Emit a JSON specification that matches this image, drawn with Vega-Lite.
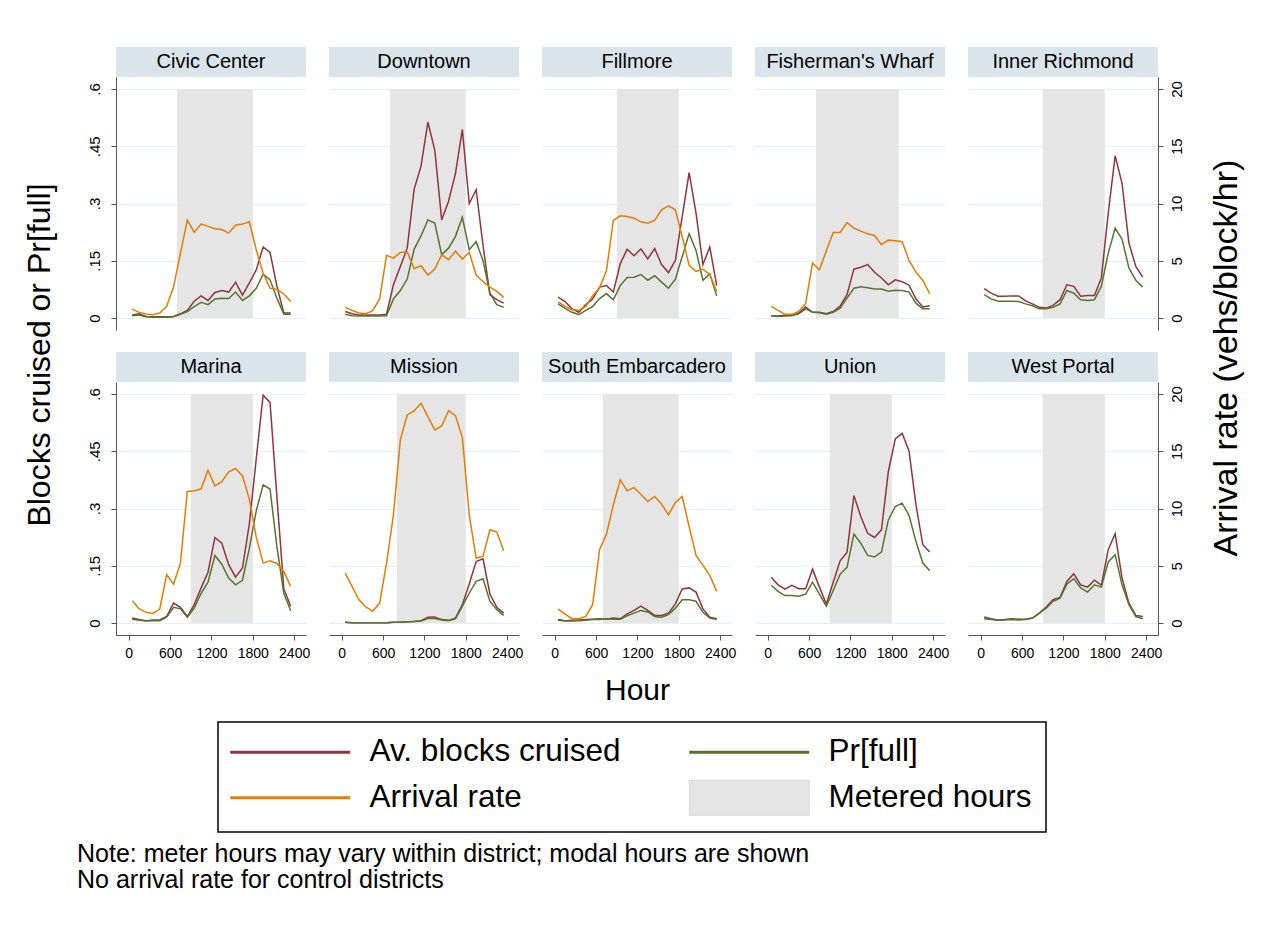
{
"$schema": "https://vega.github.io/schema/vega-lite/v6.json",
"padding": {"left": 23, "top": 47, "right": 10, "bottom": 10},
"config": {
  "font": "Liberation Sans",
  "view": {"stroke": null},
  "axis": {"labelFontSize": 14, "labelColor": "#000", "domainColor": "#555", "tickColor": "#555", "tickSize": 5, "titleFontWeight": "normal", "titleFontSize": 30, "titleColor": "#000", "gridColor": "#e6eff2"},
  "axisX": {"grid": false},
  "title": {"fontWeight": "normal", "color": "#000"},
  "legend": {"labelColor": "#000"}
},
"datasets": {
"meter": [
{"district":"Civic Center","start":700,"end":1800},
{"district":"Downtown","start":700,"end":1800},
{"district":"Fillmore","start":900,"end":1800},
{"district":"Fisherman's Wharf","start":700,"end":1900},
{"district":"Inner Richmond","start":900,"end":1800},
{"district":"Marina","start":900,"end":1800},
{"district":"Mission","start":800,"end":1800},
{"district":"South Embarcadero","start":700,"end":1800},
{"district":"Union","start":900,"end":1800},
{"district":"West Portal","start":900,"end":1800}
],
"d": [
{"district":"Civic Center","hour":50,"cruised":0.008,"full":0.006,"arrival":0.78},
{"district":"Civic Center","hour":150,"cruised":0.011,"full":0.008,"arrival":0.49},
{"district":"Civic Center","hour":250,"cruised":0.004,"full":0.003,"arrival":0.35},
{"district":"Civic Center","hour":350,"cruised":0.003,"full":0.002,"arrival":0.29},
{"district":"Civic Center","hour":450,"cruised":0.003,"full":0.002,"arrival":0.44},
{"district":"Civic Center","hour":550,"cruised":0.003,"full":0.002,"arrival":1.02},
{"district":"Civic Center","hour":650,"cruised":0.004,"full":0.003,"arrival":2.7},
{"district":"Civic Center","hour":750,"cruised":0.011,"full":0.01,"arrival":5.67},
{"district":"Civic Center","hour":850,"cruised":0.02,"full":0.017,"arrival":8.55},
{"district":"Civic Center","hour":950,"cruised":0.044,"full":0.03,"arrival":7.5},
{"district":"Civic Center","hour":1050,"cruised":0.058,"full":0.041,"arrival":8.2},
{"district":"Civic Center","hour":1150,"cruised":0.046,"full":0.035,"arrival":8.0},
{"district":"Civic Center","hour":1250,"cruised":0.067,"full":0.05,"arrival":7.8},
{"district":"Civic Center","hour":1350,"cruised":0.072,"full":0.052,"arrival":7.73},
{"district":"Civic Center","hour":1450,"cruised":0.068,"full":0.051,"arrival":7.41},
{"district":"Civic Center","hour":1550,"cruised":0.094,"full":0.068,"arrival":8.1},
{"district":"Civic Center","hour":1650,"cruised":0.06,"full":0.046,"arrival":8.2},
{"district":"Civic Center","hour":1750,"cruised":0.092,"full":0.058,"arrival":8.4},
{"district":"Civic Center","hour":1850,"cruised":0.126,"full":0.078,"arrival":5.96},
{"district":"Civic Center","hour":1950,"cruised":0.186,"full":0.115,"arrival":3.9},
{"district":"Civic Center","hour":2050,"cruised":0.172,"full":0.1,"arrival":2.6},
{"district":"Civic Center","hour":2150,"cruised":0.083,"full":0.052,"arrival":2.5},
{"district":"Civic Center","hour":2250,"cruised":0.013,"full":0.01,"arrival":2.1},
{"district":"Civic Center","hour":2350,"cruised":0.013,"full":0.01,"arrival":1.45},
{"district":"Downtown","hour":50,"cruised":0.017,"full":0.01,"arrival":0.93},
{"district":"Downtown","hour":150,"cruised":0.011,"full":0.006,"arrival":0.67},
{"district":"Downtown","hour":250,"cruised":0.008,"full":0.005,"arrival":0.44},
{"district":"Downtown","hour":350,"cruised":0.008,"full":0.005,"arrival":0.38},
{"district":"Downtown","hour":450,"cruised":0.008,"full":0.005,"arrival":0.64},
{"district":"Downtown","hour":550,"cruised":0.008,"full":0.005,"arrival":1.69},
{"district":"Downtown","hour":650,"cruised":0.01,"full":0.006,"arrival":5.47},
{"district":"Downtown","hour":750,"cruised":0.087,"full":0.05,"arrival":5.23},
{"district":"Downtown","hour":850,"cruised":0.135,"full":0.072,"arrival":5.73},
{"district":"Downtown","hour":950,"cruised":0.183,"full":0.102,"arrival":5.79},
{"district":"Downtown","hour":1050,"cruised":0.337,"full":0.18,"arrival":4.3},
{"district":"Downtown","hour":1150,"cruised":0.398,"full":0.215,"arrival":4.56},
{"district":"Downtown","hour":1250,"cruised":0.513,"full":0.257,"arrival":3.75},
{"district":"Downtown","hour":1350,"cruised":0.44,"full":0.249,"arrival":4.27},
{"district":"Downtown","hour":1450,"cruised":0.257,"full":0.166,"arrival":5.52},
{"district":"Downtown","hour":1550,"cruised":0.306,"full":0.183,"arrival":5.09},
{"district":"Downtown","hour":1650,"cruised":0.379,"full":0.214,"arrival":5.84},
{"district":"Downtown","hour":1750,"cruised":0.494,"full":0.264,"arrival":5.15},
{"district":"Downtown","hour":1850,"cruised":0.3,"full":0.179,"arrival":5.73},
{"district":"Downtown","hour":1950,"cruised":0.336,"full":0.2,"arrival":3.75},
{"district":"Downtown","hour":2050,"cruised":0.19,"full":0.15,"arrival":3.17},
{"district":"Downtown","hour":2150,"cruised":0.061,"full":0.065,"arrival":2.7},
{"district":"Downtown","hour":2250,"cruised":0.048,"full":0.035,"arrival":2.33},
{"district":"Downtown","hour":2350,"cruised":0.039,"full":0.028,"arrival":1.8},
{"district":"Fillmore","hour":50,"cruised":0.055,"full":0.037,"arrival":1.4},
{"district":"Fillmore","hour":150,"cruised":0.043,"full":0.025,"arrival":1.02},
{"district":"Fillmore","hour":250,"cruised":0.024,"full":0.015,"arrival":0.73},
{"district":"Fillmore","hour":350,"cruised":0.015,"full":0.009,"arrival":0.67},
{"district":"Fillmore","hour":450,"cruised":0.035,"full":0.02,"arrival":1.02},
{"district":"Fillmore","hour":550,"cruised":0.05,"full":0.03,"arrival":1.95},
{"district":"Fillmore","hour":650,"cruised":0.081,"full":0.051,"arrival":2.62},
{"district":"Fillmore","hour":750,"cruised":0.085,"full":0.064,"arrival":4.13},
{"district":"Fillmore","hour":850,"cruised":0.068,"full":0.048,"arrival":8.52},
{"district":"Fillmore","hour":950,"cruised":0.142,"full":0.085,"arrival":8.92},
{"district":"Fillmore","hour":1050,"cruised":0.18,"full":0.106,"arrival":8.87},
{"district":"Fillmore","hour":1150,"cruised":0.163,"full":0.107,"arrival":8.72},
{"district":"Fillmore","hour":1250,"cruised":0.181,"full":0.114,"arrival":8.4},
{"district":"Fillmore","hour":1350,"cruised":0.155,"full":0.099,"arrival":8.28},
{"district":"Fillmore","hour":1450,"cruised":0.182,"full":0.111,"arrival":8.52},
{"district":"Fillmore","hour":1550,"cruised":0.14,"full":0.094,"arrival":9.45},
{"district":"Fillmore","hour":1650,"cruised":0.119,"full":0.078,"arrival":9.8},
{"district":"Fillmore","hour":1750,"cruised":0.151,"full":0.102,"arrival":9.45},
{"district":"Fillmore","hour":1850,"cruised":0.266,"full":0.161,"arrival":7.1},
{"district":"Fillmore","hour":1950,"cruised":0.381,"full":0.221,"arrival":4.6},
{"district":"Fillmore","hour":2050,"cruised":0.275,"full":0.177,"arrival":4.07},
{"district":"Fillmore","hour":2150,"cruised":0.14,"full":0.099,"arrival":4.27},
{"district":"Fillmore","hour":2250,"cruised":0.186,"full":0.116,"arrival":3.78},
{"district":"Fillmore","hour":2350,"cruised":0.085,"full":0.058,"arrival":2.33},
{"district":"Fisherman's Wharf","hour":50,"cruised":0.006,"full":0.006,"arrival":1.02},
{"district":"Fisherman's Wharf","hour":150,"cruised":0.005,"full":0.004,"arrival":0.67},
{"district":"Fisherman's Wharf","hour":250,"cruised":0.007,"full":0.005,"arrival":0.32},
{"district":"Fisherman's Wharf","hour":350,"cruised":0.007,"full":0.006,"arrival":0.32},
{"district":"Fisherman's Wharf","hour":450,"cruised":0.013,"full":0.011,"arrival":0.58},
{"district":"Fisherman's Wharf","hour":550,"cruised":0.029,"full":0.024,"arrival":1.25},
{"district":"Fisherman's Wharf","hour":650,"cruised":0.015,"full":0.015,"arrival":4.8},
{"district":"Fisherman's Wharf","hour":750,"cruised":0.015,"full":0.014,"arrival":4.22},
{"district":"Fisherman's Wharf","hour":850,"cruised":0.011,"full":0.01,"arrival":5.87},
{"district":"Fisherman's Wharf","hour":950,"cruised":0.017,"full":0.015,"arrival":7.47},
{"district":"Fisherman's Wharf","hour":1050,"cruised":0.031,"full":0.026,"arrival":7.47},
{"district":"Fisherman's Wharf","hour":1150,"cruised":0.061,"full":0.052,"arrival":8.34},
{"district":"Fisherman's Wharf","hour":1250,"cruised":0.128,"full":0.078,"arrival":7.85},
{"district":"Fisherman's Wharf","hour":1350,"cruised":0.133,"full":0.082,"arrival":7.59},
{"district":"Fisherman's Wharf","hour":1450,"cruised":0.14,"full":0.079,"arrival":7.35},
{"district":"Fisherman's Wharf","hour":1550,"cruised":0.12,"full":0.076,"arrival":7.21},
{"district":"Fisherman's Wharf","hour":1650,"cruised":0.105,"full":0.076,"arrival":6.4},
{"district":"Fisherman's Wharf","hour":1750,"cruised":0.087,"full":0.07,"arrival":6.8},
{"district":"Fisherman's Wharf","hour":1850,"cruised":0.1,"full":0.073,"arrival":6.74},
{"district":"Fisherman's Wharf","hour":1950,"cruised":0.095,"full":0.072,"arrival":6.66},
{"district":"Fisherman's Wharf","hour":2050,"cruised":0.086,"full":0.068,"arrival":5.03},
{"district":"Fisherman's Wharf","hour":2150,"cruised":0.05,"full":0.039,"arrival":4.01},
{"district":"Fisherman's Wharf","hour":2250,"cruised":0.029,"full":0.024,"arrival":3.28},
{"district":"Fisherman's Wharf","hour":2350,"cruised":0.032,"full":0.024,"arrival":2.12},
{"district":"Inner Richmond","hour":50,"cruised":0.077,"full":0.061},
{"district":"Inner Richmond","hour":150,"cruised":0.065,"full":0.05},
{"district":"Inner Richmond","hour":250,"cruised":0.057,"full":0.044},
{"district":"Inner Richmond","hour":350,"cruised":0.057,"full":0.044},
{"district":"Inner Richmond","hour":450,"cruised":0.058,"full":0.044},
{"district":"Inner Richmond","hour":550,"cruised":0.058,"full":0.043},
{"district":"Inner Richmond","hour":650,"cruised":0.045,"full":0.037},
{"district":"Inner Richmond","hour":750,"cruised":0.037,"full":0.032},
{"district":"Inner Richmond","hour":850,"cruised":0.028,"full":0.024},
{"district":"Inner Richmond","hour":950,"cruised":0.026,"full":0.024},
{"district":"Inner Richmond","hour":1050,"cruised":0.033,"full":0.028},
{"district":"Inner Richmond","hour":1150,"cruised":0.048,"full":0.037},
{"district":"Inner Richmond","hour":1250,"cruised":0.087,"full":0.072},
{"district":"Inner Richmond","hour":1350,"cruised":0.083,"full":0.065},
{"district":"Inner Richmond","hour":1450,"cruised":0.057,"full":0.048},
{"district":"Inner Richmond","hour":1550,"cruised":0.059,"full":0.046},
{"district":"Inner Richmond","hour":1650,"cruised":0.059,"full":0.048},
{"district":"Inner Richmond","hour":1750,"cruised":0.105,"full":0.083},
{"district":"Inner Richmond","hour":1850,"cruised":0.275,"full":0.17},
{"district":"Inner Richmond","hour":1950,"cruised":0.425,"full":0.235},
{"district":"Inner Richmond","hour":2050,"cruised":0.353,"full":0.207},
{"district":"Inner Richmond","hour":2150,"cruised":0.196,"full":0.131},
{"district":"Inner Richmond","hour":2250,"cruised":0.135,"full":0.099},
{"district":"Inner Richmond","hour":2350,"cruised":0.107,"full":0.081},
{"district":"Marina","hour":50,"cruised":0.013,"full":0.01,"arrival":1.95},
{"district":"Marina","hour":150,"cruised":0.009,"full":0.007,"arrival":1.25},
{"district":"Marina","hour":250,"cruised":0.006,"full":0.005,"arrival":0.93},
{"district":"Marina","hour":350,"cruised":0.008,"full":0.006,"arrival":0.84},
{"district":"Marina","hour":450,"cruised":0.008,"full":0.006,"arrival":1.22},
{"district":"Marina","hour":550,"cruised":0.017,"full":0.015,"arrival":4.22},
{"district":"Marina","hour":650,"cruised":0.052,"full":0.041,"arrival":3.4},
{"district":"Marina","hour":750,"cruised":0.041,"full":0.037,"arrival":5.23},
{"district":"Marina","hour":850,"cruised":0.017,"full":0.015,"arrival":11.48},
{"district":"Marina","hour":950,"cruised":0.048,"full":0.039,"arrival":11.54},
{"district":"Marina","hour":1050,"cruised":0.092,"full":0.078,"arrival":11.72},
{"district":"Marina","hour":1150,"cruised":0.133,"full":0.107,"arrival":13.34},
{"district":"Marina","hour":1250,"cruised":0.224,"full":0.177,"arrival":11.98},
{"district":"Marina","hour":1350,"cruised":0.209,"full":0.154,"arrival":12.35},
{"district":"Marina","hour":1450,"cruised":0.153,"full":0.118,"arrival":13.2},
{"district":"Marina","hour":1550,"cruised":0.12,"full":0.1,"arrival":13.49},
{"district":"Marina","hour":1650,"cruised":0.144,"full":0.112,"arrival":12.85},
{"district":"Marina","hour":1750,"cruised":0.26,"full":0.196,"arrival":10.8},
{"district":"Marina","hour":1850,"cruised":0.43,"full":0.294,"arrival":7.5},
{"district":"Marina","hour":1950,"cruised":0.597,"full":0.362,"arrival":5.23},
{"district":"Marina","hour":2050,"cruised":0.578,"full":0.351,"arrival":5.44},
{"district":"Marina","hour":2150,"cruised":0.33,"full":0.2,"arrival":5.2},
{"district":"Marina","hour":2250,"cruised":0.09,"full":0.078,"arrival":4.5},
{"district":"Marina","hour":2350,"cruised":0.044,"full":0.032,"arrival":3.2},
{"district":"Mission","hour":50,"cruised":0.002,"full":0.002,"arrival":4.36},
{"district":"Mission","hour":150,"cruised":0.001,"full":0.001,"arrival":3.2},
{"district":"Mission","hour":250,"cruised":0.001,"full":0.001,"arrival":2.03},
{"district":"Mission","hour":350,"cruised":0.001,"full":0.001,"arrival":1.4},
{"district":"Mission","hour":450,"cruised":0.001,"full":0.001,"arrival":1.02},
{"district":"Mission","hour":550,"cruised":0.001,"full":0.001,"arrival":1.74},
{"district":"Mission","hour":650,"cruised":0.001,"full":0.001,"arrival":5.23},
{"district":"Mission","hour":750,"cruised":0.002,"full":0.002,"arrival":9.45},
{"district":"Mission","hour":850,"cruised":0.002,"full":0.002,"arrival":15.99},
{"district":"Mission","hour":950,"cruised":0.003,"full":0.003,"arrival":18.17},
{"district":"Mission","hour":1050,"cruised":0.004,"full":0.004,"arrival":18.52},
{"district":"Mission","hour":1150,"cruised":0.006,"full":0.005,"arrival":19.19},
{"district":"Mission","hour":1250,"cruised":0.015,"full":0.012,"arrival":18.02},
{"district":"Mission","hour":1350,"cruised":0.016,"full":0.012,"arrival":16.86},
{"district":"Mission","hour":1450,"cruised":0.009,"full":0.008,"arrival":17.21},
{"district":"Mission","hour":1550,"cruised":0.007,"full":0.006,"arrival":18.55},
{"district":"Mission","hour":1650,"cruised":0.013,"full":0.011,"arrival":18.11},
{"district":"Mission","hour":1750,"cruised":0.048,"full":0.044,"arrival":16.19},
{"district":"Mission","hour":1850,"cruised":0.102,"full":0.078,"arrival":9.45},
{"district":"Mission","hour":1950,"cruised":0.161,"full":0.109,"arrival":5.67},
{"district":"Mission","hour":2050,"cruised":0.168,"full":0.116,"arrival":5.81},
{"district":"Mission","hour":2150,"cruised":0.076,"full":0.057,"arrival":8.14},
{"district":"Mission","hour":2250,"cruised":0.041,"full":0.035,"arrival":7.94},
{"district":"Mission","hour":2350,"cruised":0.026,"full":0.02,"arrival":6.31},
{"district":"South Embarcadero","hour":50,"cruised":0.009,"full":0.007,"arrival":1.22},
{"district":"South Embarcadero","hour":150,"cruised":0.006,"full":0.005,"arrival":0.78},
{"district":"South Embarcadero","hour":250,"cruised":0.007,"full":0.005,"arrival":0.38},
{"district":"South Embarcadero","hour":350,"cruised":0.008,"full":0.006,"arrival":0.38},
{"district":"South Embarcadero","hour":450,"cruised":0.009,"full":0.007,"arrival":0.58},
{"district":"South Embarcadero","hour":550,"cruised":0.01,"full":0.009,"arrival":1.6},
{"district":"South Embarcadero","hour":650,"cruised":0.011,"full":0.009,"arrival":6.4},
{"district":"South Embarcadero","hour":750,"cruised":0.01,"full":0.011,"arrival":7.76},
{"district":"South Embarcadero","hour":850,"cruised":0.013,"full":0.01,"arrival":10.32},
{"district":"South Embarcadero","hour":950,"cruised":0.011,"full":0.01,"arrival":12.5},
{"district":"South Embarcadero","hour":1050,"cruised":0.024,"full":0.019,"arrival":11.54},
{"district":"South Embarcadero","hour":1150,"cruised":0.033,"full":0.026,"arrival":11.83},
{"district":"South Embarcadero","hour":1250,"cruised":0.044,"full":0.033,"arrival":11.25},
{"district":"South Embarcadero","hour":1350,"cruised":0.033,"full":0.029,"arrival":10.61},
{"district":"South Embarcadero","hour":1450,"cruised":0.02,"full":0.017,"arrival":11.05},
{"district":"South Embarcadero","hour":1550,"cruised":0.02,"full":0.015,"arrival":10.38},
{"district":"South Embarcadero","hour":1650,"cruised":0.026,"full":0.022,"arrival":9.45},
{"district":"South Embarcadero","hour":1750,"cruised":0.05,"full":0.039,"arrival":10.52},
{"district":"South Embarcadero","hour":1850,"cruised":0.089,"full":0.061,"arrival":11.05},
{"district":"South Embarcadero","hour":1950,"cruised":0.092,"full":0.061,"arrival":8.43},
{"district":"South Embarcadero","hour":2050,"cruised":0.081,"full":0.057,"arrival":5.9},
{"district":"South Embarcadero","hour":2150,"cruised":0.037,"full":0.028,"arrival":5.03},
{"district":"South Embarcadero","hour":2250,"cruised":0.015,"full":0.013,"arrival":4.16},
{"district":"South Embarcadero","hour":2350,"cruised":0.011,"full":0.009,"arrival":2.76},
{"district":"Union","hour":50,"cruised":0.12,"full":0.099},
{"district":"Union","hour":150,"cruised":0.1,"full":0.083},
{"district":"Union","hour":250,"cruised":0.089,"full":0.072},
{"district":"Union","hour":350,"cruised":0.099,"full":0.072},
{"district":"Union","hour":450,"cruised":0.09,"full":0.07},
{"district":"Union","hour":550,"cruised":0.09,"full":0.076},
{"district":"Union","hour":650,"cruised":0.141,"full":0.107},
{"district":"Union","hour":750,"cruised":0.094,"full":0.076},
{"district":"Union","hour":850,"cruised":0.05,"full":0.044},
{"district":"Union","hour":950,"cruised":0.107,"full":0.085},
{"district":"Union","hour":1050,"cruised":0.163,"full":0.128},
{"district":"Union","hour":1150,"cruised":0.185,"full":0.146},
{"district":"Union","hour":1250,"cruised":0.334,"full":0.233},
{"district":"Union","hour":1350,"cruised":0.279,"full":0.209},
{"district":"Union","hour":1450,"cruised":0.235,"full":0.177},
{"district":"Union","hour":1550,"cruised":0.224,"full":0.173},
{"district":"Union","hour":1650,"cruised":0.244,"full":0.186},
{"district":"Union","hour":1750,"cruised":0.397,"full":0.27},
{"district":"Union","hour":1850,"cruised":0.482,"full":0.305},
{"district":"Union","hour":1950,"cruised":0.497,"full":0.314},
{"district":"Union","hour":2050,"cruised":0.451,"full":0.282},
{"district":"Union","hour":2150,"cruised":0.31,"full":0.214},
{"district":"Union","hour":2250,"cruised":0.205,"full":0.157},
{"district":"Union","hour":2350,"cruised":0.186,"full":0.137},
{"district":"West Portal","hour":50,"cruised":0.016,"full":0.011},
{"district":"West Portal","hour":150,"cruised":0.011,"full":0.009},
{"district":"West Portal","hour":250,"cruised":0.008,"full":0.007},
{"district":"West Portal","hour":350,"cruised":0.009,"full":0.008},
{"district":"West Portal","hour":450,"cruised":0.011,"full":0.009},
{"district":"West Portal","hour":550,"cruised":0.01,"full":0.008},
{"district":"West Portal","hour":650,"cruised":0.01,"full":0.009},
{"district":"West Portal","hour":750,"cruised":0.013,"full":0.013},
{"district":"West Portal","hour":850,"cruised":0.026,"full":0.026},
{"district":"West Portal","hour":950,"cruised":0.042,"full":0.039},
{"district":"West Portal","hour":1050,"cruised":0.061,"full":0.057},
{"district":"West Portal","hour":1150,"cruised":0.067,"full":0.065},
{"district":"West Portal","hour":1250,"cruised":0.109,"full":0.102},
{"district":"West Portal","hour":1350,"cruised":0.129,"full":0.116},
{"district":"West Portal","hour":1450,"cruised":0.1,"full":0.092},
{"district":"West Portal","hour":1550,"cruised":0.094,"full":0.081},
{"district":"West Portal","hour":1650,"cruised":0.112,"full":0.1},
{"district":"West Portal","hour":1750,"cruised":0.099,"full":0.094},
{"district":"West Portal","hour":1850,"cruised":0.192,"full":0.16},
{"district":"West Portal","hour":1950,"cruised":0.234,"full":0.179},
{"district":"West Portal","hour":2050,"cruised":0.118,"full":0.1},
{"district":"West Portal","hour":2150,"cruised":0.052,"full":0.048},
{"district":"West Portal","hour":2250,"cruised":0.02,"full":0.017},
{"district":"West Portal","hour":2350,"cruised":0.017,"full":0.011}
]
},
"title": {"text": ["Note: meter hours may vary within district; modal hours are shown", "No arrival rate for control districts"], "orient": "bottom", "anchor": "start", "fontSize": 25, "lineHeight": 26, "offset": 9, "dx": 53},
"vconcat": [{
"title": {"text": "Blocks cruised or Pr[full]", "orient": "left", "anchor": "middle", "fontSize": 32, "offset": 30, "dx": 21},
"vconcat": [{
"title": {"text": "Arrival rate (vehs/block/hr)", "orient": "right", "anchor": "middle", "fontSize": 34, "angle": 270, "baseline": "top", "offset": -8, "dx": 18},
"columns": 5,
"spacing": {"row": 22, "column": 19},
"concat": [
{"spacing": 0, "vconcat": [
 {"width": 190, "height": 30, "view": {"fill": "#d9e5eb", "stroke": null}, "data": {"name": "meter"}, "transform": [{"filter": {"field": "district", "equal": "Civic Center"}}], "mark": {"type": "text", "fontSize": 20, "color": "#000"}, "encoding": {"text": {"field": "district"}}},
 {"width": 190, "height": 253, "resolve": {"scale": {"y": "independent"}}, "layer": [
  {"layer": [
   {"data": {"name": "meter"}, "transform": [{"filter": {"field": "district", "equal": "Civic Center"}}], "mark": {"type": "rect"}, "encoding": {
     "x": {"field": "start", "type": "quantitative", "scale": {"domain": [-185, 2572], "nice": false, "zero": false}, "axis": null},
     "x2": {"field": "end"},
     "y": {"datum": 0, "type": "quantitative", "scale": {"domain": [-0.0314, 0.6314], "nice": false, "zero": false}, "axis": {"orient": "left", "values": [0, 0.15, 0.3, 0.45, 0.6], "labelExpr": "replace(format(datum.value,'~g'),'0.','.')", "labelAngle": 270, "labelAlign": "center", "labelBaseline": "bottom", "labelPadding": 9, "labelFontSize": 15, "grid": true, "title": null}},
     "y2": {"datum": 0.6},
     "color": {"datum": "metered", "type": "nominal", "scale": {"domain": ["cruised", "full", "arrival", "metered"], "range": ["#90353b", "#55752f", "#e37e00", "#e5e5e5"]},
       "legend": {"orient": "none", "legendX": 102, "legendY": 675, "title": null, "columns": 2, "direction": "horizontal", "strokeColor": "#000", "padding": 14, "columnPadding": 62, "rowPadding": 10, "symbolSize": 1225, "labelFontSize": 31.5, "labelOffset": 106, "labelLimit": 500,
         "labelExpr": "datum.value === 'cruised' ? 'Av. blocks cruised' : datum.value === 'full' ? 'Pr[full]' : datum.value === 'arrival' ? 'Arrival rate' : 'Metered hours'",
         "encoding": {
          "legend": {"strokeWidth": {"value": 1.5}},
          "symbols": {
           "shape": {"value": {"expr": "datum.value === 'metered' ? 'M-1,-1H5.857V1H-1Z' : 'M-1,0H5.857'"}},
           "fill": {"value": {"expr": "datum.value === 'metered' ? '#e5e5e5' : 'transparent'"}},
           "stroke": {"value": {"expr": "datum.value === 'cruised' ? '#90353b' : datum.value === 'full' ? '#55752f' : datum.value === 'arrival' ? '#e37e00' : '#d9d9d9'"}},
           "strokeWidth": {"value": {"expr": "datum.value === 'metered' ? 1 : 3"}},
           "opacity": {"value": 1}
         }}}}
   }},
   {"data": {"name": "d"}, "transform": [{"filter": {"field": "district", "equal": "Civic Center"}}], "mark": {"type": "line", "color": "#90353b", "strokeWidth": 1.5}, "encoding": {"x": {"field": "hour", "type": "quantitative", "axis": null}, "y": {"field": "cruised", "type": "quantitative"}}},
   {"data": {"name": "d"}, "transform": [{"filter": {"field": "district", "equal": "Civic Center"}}], "mark": {"type": "line", "color": "#55752f", "strokeWidth": 1.5}, "encoding": {"x": {"field": "hour", "type": "quantitative", "axis": null}, "y": {"field": "full", "type": "quantitative"}}}
  ]},
  {"data": {"name": "d"}, "transform": [{"filter": {"field": "district", "equal": "Civic Center"}}], "mark": {"type": "line", "color": "#e37e00", "strokeWidth": 1.5}, "encoding": {"x": {"field": "hour", "type": "quantitative", "axis": null}, "y": {"field": "arrival", "type": "quantitative", "scale": {"domain": [-1.0467, 21.0467], "nice": false, "zero": false}, "axis": null}}}
 ]}
]},
{"spacing": 0, "vconcat": [
 {"width": 190, "height": 30, "view": {"fill": "#d9e5eb", "stroke": null}, "data": {"name": "meter"}, "transform": [{"filter": {"field": "district", "equal": "Downtown"}}], "mark": {"type": "text", "fontSize": 20, "color": "#000"}, "encoding": {"text": {"field": "district"}}},
 {"width": 190, "height": 253, "resolve": {"scale": {"y": "independent"}}, "layer": [
  {"layer": [
   {"data": {"name": "meter"}, "transform": [{"filter": {"field": "district", "equal": "Downtown"}}], "mark": {"type": "rect", "color": "#e5e5e5"}, "encoding": {
     "x": {"field": "start", "type": "quantitative", "scale": {"domain": [-185, 2572], "nice": false, "zero": false}, "axis": null},
     "x2": {"field": "end"},
     "y": {"datum": 0, "type": "quantitative", "scale": {"domain": [-0.0314, 0.6314], "nice": false, "zero": false}, "axis": {"orient": "left", "values": [0, 0.15, 0.3, 0.45, 0.6], "grid": true, "domain": false, "ticks": false, "labels": false, "title": null}},
     "y2": {"datum": 0.6}}},
   {"data": {"name": "d"}, "transform": [{"filter": {"field": "district", "equal": "Downtown"}}], "mark": {"type": "line", "color": "#90353b", "strokeWidth": 1.5}, "encoding": {"x": {"field": "hour", "type": "quantitative", "axis": null}, "y": {"field": "cruised", "type": "quantitative"}}},
   {"data": {"name": "d"}, "transform": [{"filter": {"field": "district", "equal": "Downtown"}}], "mark": {"type": "line", "color": "#55752f", "strokeWidth": 1.5}, "encoding": {"x": {"field": "hour", "type": "quantitative", "axis": null}, "y": {"field": "full", "type": "quantitative"}}}
  ]},
  {"data": {"name": "d"}, "transform": [{"filter": {"field": "district", "equal": "Downtown"}}], "mark": {"type": "line", "color": "#e37e00", "strokeWidth": 1.5}, "encoding": {"x": {"field": "hour", "type": "quantitative", "axis": null}, "y": {"field": "arrival", "type": "quantitative", "scale": {"domain": [-1.0467, 21.0467], "nice": false, "zero": false}, "axis": null}}}
 ]}
]},
{"spacing": 0, "vconcat": [
 {"width": 190, "height": 30, "view": {"fill": "#d9e5eb", "stroke": null}, "data": {"name": "meter"}, "transform": [{"filter": {"field": "district", "equal": "Fillmore"}}], "mark": {"type": "text", "fontSize": 20, "color": "#000"}, "encoding": {"text": {"field": "district"}}},
 {"width": 190, "height": 253, "resolve": {"scale": {"y": "independent"}}, "layer": [
  {"layer": [
   {"data": {"name": "meter"}, "transform": [{"filter": {"field": "district", "equal": "Fillmore"}}], "mark": {"type": "rect", "color": "#e5e5e5"}, "encoding": {
     "x": {"field": "start", "type": "quantitative", "scale": {"domain": [-185, 2572], "nice": false, "zero": false}, "axis": null},
     "x2": {"field": "end"},
     "y": {"datum": 0, "type": "quantitative", "scale": {"domain": [-0.0314, 0.6314], "nice": false, "zero": false}, "axis": {"orient": "left", "values": [0, 0.15, 0.3, 0.45, 0.6], "grid": true, "domain": false, "ticks": false, "labels": false, "title": null}},
     "y2": {"datum": 0.6}}},
   {"data": {"name": "d"}, "transform": [{"filter": {"field": "district", "equal": "Fillmore"}}], "mark": {"type": "line", "color": "#90353b", "strokeWidth": 1.5}, "encoding": {"x": {"field": "hour", "type": "quantitative", "axis": null}, "y": {"field": "cruised", "type": "quantitative"}}},
   {"data": {"name": "d"}, "transform": [{"filter": {"field": "district", "equal": "Fillmore"}}], "mark": {"type": "line", "color": "#55752f", "strokeWidth": 1.5}, "encoding": {"x": {"field": "hour", "type": "quantitative", "axis": null}, "y": {"field": "full", "type": "quantitative"}}}
  ]},
  {"data": {"name": "d"}, "transform": [{"filter": {"field": "district", "equal": "Fillmore"}}], "mark": {"type": "line", "color": "#e37e00", "strokeWidth": 1.5}, "encoding": {"x": {"field": "hour", "type": "quantitative", "axis": null}, "y": {"field": "arrival", "type": "quantitative", "scale": {"domain": [-1.0467, 21.0467], "nice": false, "zero": false}, "axis": null}}}
 ]}
]},
{"spacing": 0, "vconcat": [
 {"width": 190, "height": 30, "view": {"fill": "#d9e5eb", "stroke": null}, "data": {"name": "meter"}, "transform": [{"filter": {"field": "district", "equal": "Fisherman's Wharf"}}], "mark": {"type": "text", "fontSize": 20, "color": "#000"}, "encoding": {"text": {"field": "district"}}},
 {"width": 190, "height": 253, "resolve": {"scale": {"y": "independent"}}, "layer": [
  {"layer": [
   {"data": {"name": "meter"}, "transform": [{"filter": {"field": "district", "equal": "Fisherman's Wharf"}}], "mark": {"type": "rect", "color": "#e5e5e5"}, "encoding": {
     "x": {"field": "start", "type": "quantitative", "scale": {"domain": [-185, 2572], "nice": false, "zero": false}, "axis": null},
     "x2": {"field": "end"},
     "y": {"datum": 0, "type": "quantitative", "scale": {"domain": [-0.0314, 0.6314], "nice": false, "zero": false}, "axis": {"orient": "left", "values": [0, 0.15, 0.3, 0.45, 0.6], "grid": true, "domain": false, "ticks": false, "labels": false, "title": null}},
     "y2": {"datum": 0.6}}},
   {"data": {"name": "d"}, "transform": [{"filter": {"field": "district", "equal": "Fisherman's Wharf"}}], "mark": {"type": "line", "color": "#90353b", "strokeWidth": 1.5}, "encoding": {"x": {"field": "hour", "type": "quantitative", "axis": null}, "y": {"field": "cruised", "type": "quantitative"}}},
   {"data": {"name": "d"}, "transform": [{"filter": {"field": "district", "equal": "Fisherman's Wharf"}}], "mark": {"type": "line", "color": "#55752f", "strokeWidth": 1.5}, "encoding": {"x": {"field": "hour", "type": "quantitative", "axis": null}, "y": {"field": "full", "type": "quantitative"}}}
  ]},
  {"data": {"name": "d"}, "transform": [{"filter": {"field": "district", "equal": "Fisherman's Wharf"}}], "mark": {"type": "line", "color": "#e37e00", "strokeWidth": 1.5}, "encoding": {"x": {"field": "hour", "type": "quantitative", "axis": null}, "y": {"field": "arrival", "type": "quantitative", "scale": {"domain": [-1.0467, 21.0467], "nice": false, "zero": false}, "axis": null}}}
 ]}
]},
{"spacing": 0, "vconcat": [
 {"width": 190, "height": 30, "view": {"fill": "#d9e5eb", "stroke": null}, "data": {"name": "meter"}, "transform": [{"filter": {"field": "district", "equal": "Inner Richmond"}}], "mark": {"type": "text", "fontSize": 20, "color": "#000"}, "encoding": {"text": {"field": "district"}}},
 {"width": 190, "height": 253, "resolve": {"scale": {"y": "independent"}}, "layer": [
  {"layer": [
   {"data": {"name": "meter"}, "transform": [{"filter": {"field": "district", "equal": "Inner Richmond"}}], "mark": {"type": "rect", "color": "#e5e5e5"}, "encoding": {
     "x": {"field": "start", "type": "quantitative", "scale": {"domain": [-185, 2572], "nice": false, "zero": false}, "axis": null},
     "x2": {"field": "end"},
     "y": {"datum": 0, "type": "quantitative", "scale": {"domain": [-0.0314, 0.6314], "nice": false, "zero": false}, "axis": {"orient": "left", "values": [0, 0.15, 0.3, 0.45, 0.6], "grid": true, "domain": false, "ticks": false, "labels": false, "title": null}},
     "y2": {"datum": 0.6}}},
   {"data": {"name": "d"}, "transform": [{"filter": {"field": "district", "equal": "Inner Richmond"}}], "mark": {"type": "line", "color": "#90353b", "strokeWidth": 1.5}, "encoding": {"x": {"field": "hour", "type": "quantitative", "axis": null}, "y": {"field": "cruised", "type": "quantitative"}}},
   {"data": {"name": "d"}, "transform": [{"filter": {"field": "district", "equal": "Inner Richmond"}}], "mark": {"type": "line", "color": "#55752f", "strokeWidth": 1.5}, "encoding": {"x": {"field": "hour", "type": "quantitative", "axis": null}, "y": {"field": "full", "type": "quantitative"}}}
  ]},
  {"data": {"name": "d"}, "transform": [{"filter": {"field": "district", "equal": "Inner Richmond"}}], "mark": {"type": "line", "color": "#e37e00", "strokeWidth": 1.5}, "encoding": {"x": {"field": "hour", "type": "quantitative", "axis": null}, "y": {"field": "arrival", "type": "quantitative", "scale": {"domain": [-1.0467, 21.0467], "nice": false, "zero": false}, "axis": {"orient": "right", "values": [0, 5, 10, 15, 20], "labelAngle": 270, "labelAlign": "center", "labelBaseline": "top", "labelPadding": 6, "labelFontSize": 15, "grid": false, "title": null}}}}
 ]}
]},
{"spacing": 0, "vconcat": [
 {"width": 190, "height": 30, "view": {"fill": "#d9e5eb", "stroke": null}, "data": {"name": "meter"}, "transform": [{"filter": {"field": "district", "equal": "Marina"}}], "mark": {"type": "text", "fontSize": 20, "color": "#000"}, "encoding": {"text": {"field": "district"}}},
 {"width": 190, "height": 253, "resolve": {"scale": {"y": "independent"}}, "layer": [
  {"layer": [
   {"data": {"name": "meter"}, "transform": [{"filter": {"field": "district", "equal": "Marina"}}], "mark": {"type": "rect", "color": "#e5e5e5"}, "encoding": {
     "x": {"field": "start", "type": "quantitative", "scale": {"domain": [-185, 2572], "nice": false, "zero": false}, "axis": {"orient": "bottom", "values": [0, 600, 1200, 1800, 2400], "format": "d", "title": null, "labelPadding": 6, "grid": false}},
     "x2": {"field": "end"},
     "y": {"datum": 0, "type": "quantitative", "scale": {"domain": [-0.0314, 0.6314], "nice": false, "zero": false}, "axis": {"orient": "left", "values": [0, 0.15, 0.3, 0.45, 0.6], "labelExpr": "replace(format(datum.value,'~g'),'0.','.')", "labelAngle": 270, "labelAlign": "center", "labelBaseline": "bottom", "labelPadding": 9, "labelFontSize": 15, "grid": true, "title": null}},
     "y2": {"datum": 0.6}}},
   {"data": {"name": "d"}, "transform": [{"filter": {"field": "district", "equal": "Marina"}}], "mark": {"type": "line", "color": "#90353b", "strokeWidth": 1.5}, "encoding": {"x": {"field": "hour", "type": "quantitative"}, "y": {"field": "cruised", "type": "quantitative"}}},
   {"data": {"name": "d"}, "transform": [{"filter": {"field": "district", "equal": "Marina"}}], "mark": {"type": "line", "color": "#55752f", "strokeWidth": 1.5}, "encoding": {"x": {"field": "hour", "type": "quantitative"}, "y": {"field": "full", "type": "quantitative"}}}
  ]},
  {"data": {"name": "d"}, "transform": [{"filter": {"field": "district", "equal": "Marina"}}], "mark": {"type": "line", "color": "#e37e00", "strokeWidth": 1.5}, "encoding": {"x": {"field": "hour", "type": "quantitative"}, "y": {"field": "arrival", "type": "quantitative", "scale": {"domain": [-1.0467, 21.0467], "nice": false, "zero": false}, "axis": null}}}
 ]}
]},
{"spacing": 0, "vconcat": [
 {"width": 190, "height": 30, "view": {"fill": "#d9e5eb", "stroke": null}, "data": {"name": "meter"}, "transform": [{"filter": {"field": "district", "equal": "Mission"}}], "mark": {"type": "text", "fontSize": 20, "color": "#000"}, "encoding": {"text": {"field": "district"}}},
 {"width": 190, "height": 253, "resolve": {"scale": {"y": "independent"}}, "layer": [
  {"layer": [
   {"data": {"name": "meter"}, "transform": [{"filter": {"field": "district", "equal": "Mission"}}], "mark": {"type": "rect", "color": "#e5e5e5"}, "encoding": {
     "x": {"field": "start", "type": "quantitative", "scale": {"domain": [-185, 2572], "nice": false, "zero": false}, "axis": {"orient": "bottom", "values": [0, 600, 1200, 1800, 2400], "format": "d", "title": null, "labelPadding": 6, "grid": false}},
     "x2": {"field": "end"},
     "y": {"datum": 0, "type": "quantitative", "scale": {"domain": [-0.0314, 0.6314], "nice": false, "zero": false}, "axis": {"orient": "left", "values": [0, 0.15, 0.3, 0.45, 0.6], "grid": true, "domain": false, "ticks": false, "labels": false, "title": null}},
     "y2": {"datum": 0.6}}},
   {"data": {"name": "d"}, "transform": [{"filter": {"field": "district", "equal": "Mission"}}], "mark": {"type": "line", "color": "#90353b", "strokeWidth": 1.5}, "encoding": {"x": {"field": "hour", "type": "quantitative"}, "y": {"field": "cruised", "type": "quantitative"}}},
   {"data": {"name": "d"}, "transform": [{"filter": {"field": "district", "equal": "Mission"}}], "mark": {"type": "line", "color": "#55752f", "strokeWidth": 1.5}, "encoding": {"x": {"field": "hour", "type": "quantitative"}, "y": {"field": "full", "type": "quantitative"}}}
  ]},
  {"data": {"name": "d"}, "transform": [{"filter": {"field": "district", "equal": "Mission"}}], "mark": {"type": "line", "color": "#e37e00", "strokeWidth": 1.5}, "encoding": {"x": {"field": "hour", "type": "quantitative"}, "y": {"field": "arrival", "type": "quantitative", "scale": {"domain": [-1.0467, 21.0467], "nice": false, "zero": false}, "axis": null}}}
 ]}
]},
{"spacing": 0, "vconcat": [
 {"width": 190, "height": 30, "view": {"fill": "#d9e5eb", "stroke": null}, "data": {"name": "meter"}, "transform": [{"filter": {"field": "district", "equal": "South Embarcadero"}}], "mark": {"type": "text", "fontSize": 20, "color": "#000"}, "encoding": {"text": {"field": "district"}}},
 {"width": 190, "height": 253, "resolve": {"scale": {"y": "independent"}}, "layer": [
  {"layer": [
   {"data": {"name": "meter"}, "transform": [{"filter": {"field": "district", "equal": "South Embarcadero"}}], "mark": {"type": "rect", "color": "#e5e5e5"}, "encoding": {
     "x": {"field": "start", "type": "quantitative", "scale": {"domain": [-185, 2572], "nice": false, "zero": false}, "axis": {"orient": "bottom", "values": [0, 600, 1200, 1800, 2400], "format": "d", "title": "Hour", "titlePadding": 15, "labelPadding": 6, "grid": false}},
     "x2": {"field": "end"},
     "y": {"datum": 0, "type": "quantitative", "scale": {"domain": [-0.0314, 0.6314], "nice": false, "zero": false}, "axis": {"orient": "left", "values": [0, 0.15, 0.3, 0.45, 0.6], "grid": true, "domain": false, "ticks": false, "labels": false, "title": null}},
     "y2": {"datum": 0.6}}},
   {"data": {"name": "d"}, "transform": [{"filter": {"field": "district", "equal": "South Embarcadero"}}], "mark": {"type": "line", "color": "#90353b", "strokeWidth": 1.5}, "encoding": {"x": {"field": "hour", "type": "quantitative"}, "y": {"field": "cruised", "type": "quantitative"}}},
   {"data": {"name": "d"}, "transform": [{"filter": {"field": "district", "equal": "South Embarcadero"}}], "mark": {"type": "line", "color": "#55752f", "strokeWidth": 1.5}, "encoding": {"x": {"field": "hour", "type": "quantitative"}, "y": {"field": "full", "type": "quantitative"}}}
  ]},
  {"data": {"name": "d"}, "transform": [{"filter": {"field": "district", "equal": "South Embarcadero"}}], "mark": {"type": "line", "color": "#e37e00", "strokeWidth": 1.5}, "encoding": {"x": {"field": "hour", "type": "quantitative"}, "y": {"field": "arrival", "type": "quantitative", "scale": {"domain": [-1.0467, 21.0467], "nice": false, "zero": false}, "axis": null}}}
 ]}
]},
{"spacing": 0, "vconcat": [
 {"width": 190, "height": 30, "view": {"fill": "#d9e5eb", "stroke": null}, "data": {"name": "meter"}, "transform": [{"filter": {"field": "district", "equal": "Union"}}], "mark": {"type": "text", "fontSize": 20, "color": "#000"}, "encoding": {"text": {"field": "district"}}},
 {"width": 190, "height": 253, "layer": [
   {"data": {"name": "meter"}, "transform": [{"filter": {"field": "district", "equal": "Union"}}], "mark": {"type": "rect", "color": "#e5e5e5"}, "encoding": {
     "x": {"field": "start", "type": "quantitative", "scale": {"domain": [-185, 2572], "nice": false, "zero": false}, "axis": {"orient": "bottom", "values": [0, 600, 1200, 1800, 2400], "format": "d", "title": null, "labelPadding": 6, "grid": false}},
     "x2": {"field": "end"},
     "y": {"datum": 0, "type": "quantitative", "scale": {"domain": [-0.0314, 0.6314], "nice": false, "zero": false}, "axis": {"orient": "left", "values": [0, 0.15, 0.3, 0.45, 0.6], "grid": true, "domain": false, "ticks": false, "labels": false, "title": null}},
     "y2": {"datum": 0.6}}},
   {"data": {"name": "d"}, "transform": [{"filter": {"field": "district", "equal": "Union"}}], "mark": {"type": "line", "color": "#90353b", "strokeWidth": 1.5}, "encoding": {"x": {"field": "hour", "type": "quantitative"}, "y": {"field": "cruised", "type": "quantitative"}}},
   {"data": {"name": "d"}, "transform": [{"filter": {"field": "district", "equal": "Union"}}], "mark": {"type": "line", "color": "#55752f", "strokeWidth": 1.5}, "encoding": {"x": {"field": "hour", "type": "quantitative"}, "y": {"field": "full", "type": "quantitative"}}}
 ]}
]},
{"spacing": 0, "vconcat": [
 {"width": 190, "height": 30, "view": {"fill": "#d9e5eb", "stroke": null}, "data": {"name": "meter"}, "transform": [{"filter": {"field": "district", "equal": "West Portal"}}], "mark": {"type": "text", "fontSize": 20, "color": "#000"}, "encoding": {"text": {"field": "district"}}},
 {"width": 190, "height": 253, "resolve": {"scale": {"y": "independent"}}, "layer": [
  {"layer": [
   {"data": {"name": "meter"}, "transform": [{"filter": {"field": "district", "equal": "West Portal"}}], "mark": {"type": "rect", "color": "#e5e5e5"}, "encoding": {
     "x": {"field": "start", "type": "quantitative", "scale": {"domain": [-185, 2572], "nice": false, "zero": false}, "axis": {"orient": "bottom", "values": [0, 600, 1200, 1800, 2400], "format": "d", "title": null, "labelPadding": 6, "grid": false}},
     "x2": {"field": "end"},
     "y": {"datum": 0, "type": "quantitative", "scale": {"domain": [-0.0314, 0.6314], "nice": false, "zero": false}, "axis": {"orient": "left", "values": [0, 0.15, 0.3, 0.45, 0.6], "grid": true, "domain": false, "ticks": false, "labels": false, "title": null}},
     "y2": {"datum": 0.6}}},
   {"data": {"name": "d"}, "transform": [{"filter": {"field": "district", "equal": "West Portal"}}], "mark": {"type": "line", "color": "#90353b", "strokeWidth": 1.5}, "encoding": {"x": {"field": "hour", "type": "quantitative"}, "y": {"field": "cruised", "type": "quantitative"}}},
   {"data": {"name": "d"}, "transform": [{"filter": {"field": "district", "equal": "West Portal"}}], "mark": {"type": "line", "color": "#55752f", "strokeWidth": 1.5}, "encoding": {"x": {"field": "hour", "type": "quantitative"}, "y": {"field": "full", "type": "quantitative"}}}
  ]},
  {"data": {"name": "d"}, "transform": [{"filter": {"field": "district", "equal": "West Portal"}}], "mark": {"type": "line", "color": "#e37e00", "strokeWidth": 1.5}, "encoding": {"x": {"field": "hour", "type": "quantitative"}, "y": {"field": "arrival", "type": "quantitative", "scale": {"domain": [-1.0467, 21.0467], "nice": false, "zero": false}, "axis": {"orient": "right", "values": [0, 5, 10, 15, 20], "labelAngle": 270, "labelAlign": "center", "labelBaseline": "top", "labelPadding": 6, "labelFontSize": 15, "grid": false, "title": null}}}}
 ]}
]}
]
}]
}]
}
